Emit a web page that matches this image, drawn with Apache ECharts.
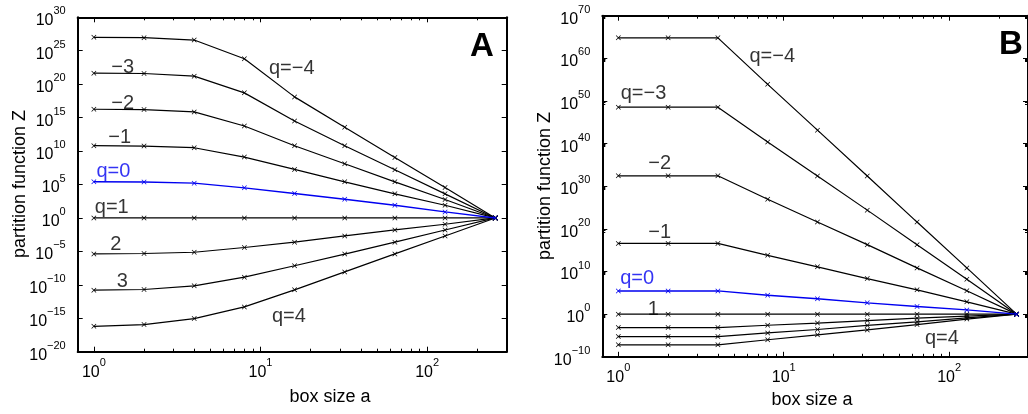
<!DOCTYPE html>
<html>
<head>
<meta charset="utf-8">
<script src="https://cdn.jsdelivr.net/npm/echarts@6/dist/echarts.min.js"></script>
<style>
  html, body { margin: 0; padding: 0; background: #ffffff; }
  #chart { width: 1028px; height: 414px; }
</style>
</head>
<body>
<div id="chart"></div>
<script>
// Box sizes a (same for both panels)
const boxSizes = [1, 2, 4, 8, 16, 32, 64, 128, 256];
const qOrder = [-4, -3, -2, -1, 0, 1, 2, 3, 4];

// Panel A: log10 of the partition function Z(a) for each q
const logZ_A_qm4 = [27.0, 26.95, 26.6, 23.8, 18.1, 13.55, 9.05, 4.55, 0];
const logZ_A_qm3 = [21.65, 21.6, 21.2, 18.7, 14.5, 10.8, 7.2, 3.6, 0];
const logZ_A_qm2 = [16.25, 16.2, 15.85, 13.75, 10.8, 8.1, 5.4, 2.75, 0];
const logZ_A_qm1 = [10.8, 10.75, 10.5, 9.1, 7.25, 5.4, 3.6, 1.9, 0];
const logZ_A_q0  = [5.4, 5.38, 5.2, 4.5, 3.65, 2.8, 1.9, 0.9, 0];
const logZ_A_q1  = [0, 0, 0, 0, 0, 0, 0, 0, 0];
const logZ_A_q2  = [-5.38, -5.32, -5.13, -4.42, -3.63, -2.69, -1.79, -0.94, 0];
const logZ_A_q3  = [-10.8, -10.7, -10.15, -8.85, -7.15, -5.4, -3.62, -1.8, 0];
const logZ_A_q4  = [-16.2, -15.95, -15.05, -13.3, -10.75, -8.07, -5.38, -2.7, 0];

// Panel B: log10 of the partition function Z(a) for each q
const logZ_B_qm4 = [64.8, 64.8, 64.8, 53.9, 43.15, 32.4, 21.6, 10.85, 0];
const logZ_B_qm3 = [48.55, 48.55, 48.55, 40.4, 32.4, 24.4, 16.3, 8.2, 0];
const logZ_B_qm2 = [32.45, 32.45, 32.45, 26.95, 21.6, 16.3, 10.85, 5.5, 0];
const logZ_B_qm1 = [16.6, 16.6, 16.6, 13.8, 11.1, 8.35, 5.7, 2.9, 0];
const logZ_B_q0  = [5.45, 5.45, 5.45, 4.45, 3.6, 2.65, 1.8, 1.0, 0];
const logZ_B_q1  = [0, 0, 0, 0, 0, 0, 0, 0, 0];
const logZ_B_q2  = [-3.15, -3.15, -3.15, -2.6, -2.1, -1.5, -0.95, -0.45, 0];
const logZ_B_q3  = [-5.25, -5.25, -5.25, -4.4, -3.6, -2.65, -1.8, -0.85, 0];
const logZ_B_q4  = [-7.2, -7.2, -7.2, -6.0, -4.85, -3.7, -2.45, -1.15, 0];

const panelA = [logZ_A_qm4, logZ_A_qm3, logZ_A_qm2, logZ_A_qm1, logZ_A_q0, logZ_A_q1, logZ_A_q2, logZ_A_q3, logZ_A_q4];
const panelB = [logZ_B_qm4, logZ_B_qm3, logZ_B_qm2, logZ_B_qm1, logZ_B_q0, logZ_B_q1, logZ_B_q2, logZ_B_q3, logZ_B_q4];

// Axis ranges and tick decades
const xRange = [0.8, 300];
const xDecades = [0, 1, 2];
const yRangeA = [1e-20, 1e30];
const yRangeB = [1e-10, 1e70];

// ---- styling ----
const FONT = '"Liberation Sans", Arial, Helvetica, sans-serif';
const BLACK = '#000000';
const BLUE = '#0000f0';
const CROSS = 'path://M0,1 L1,0 L5,4 L9,0 L10,1 L6,5 L10,9 L9,10 L5,6 L1,10 L0,9 L4,5 Z';

// Curve annotations: text placed at (box size, log10 Z)
const notesA = [
  { text: 'q=−4', at: [15.4, 22.4] },
  { text: '−3', at: [1.49, 22.5] },
  { text: '−2', at: [1.49, 17.1] },
  { text: '−1', at: [1.43, 12.0] },
  { text: 'q=0', at: [1.31, 7.0], blue: true },
  { text: 'q=1', at: [1.28, 1.6] },
  { text: '2', at: [1.355, -3.9] },
  { text: '3', at: [1.48, -9.5] },
  { text: 'q=4', at: [14.8, -14.8] }
];
const notesB = [
  { text: 'q=−4', at: [8.53, 60.4] },
  { text: 'q=−3', at: [1.42, 51.8] },
  { text: '−2', at: [1.78, 35.4] },
  { text: '−1', at: [1.78, 19.2] },
  { text: 'q=0', at: [1.30, 8.3], blue: true },
  { text: '1', at: [1.63, 1.0] },
  { text: 'q=4', at: [90.4, -5.6] }
];

function supText(e) {
  return '{b|10}{e|' + (e < 0 ? '−' + (-e) : String(e)) + '}';
}
// label for a log-axis tick value (only whole decades are labelled)
function powLabel(v) {
  const lg = Math.log10(v);
  const e = Math.round(lg);
  if (Math.abs(lg - e) > 1e-6) return '';
  return supText(e);
}
const powRich = {
  b: { fontSize: 16, fontFamily: FONT, color: BLACK, padding: [7, 0, 0, 0], verticalAlign: 'bottom' },
  e: { fontSize: 11, fontFamily: FONT, color: BLACK, verticalAlign: 'top' }
};

// minor ticks at 2..9 of each decade, on the linear log10 scale of the tick axes
const minorX = [];
[1, 10, 100].forEach(d => {
  for (let k = 2; k <= 9; k++) {
    const v = k * d;
    if (v > xRange[0] && v < xRange[1]) minorX.push(Math.log10(v));
  }
});

const frameLine = { color: BLACK, width: 2 };
const tickLine = { color: BLACK, width: 1 };

function xAxesFor(grid) {
  // the log axis that carries the data (and draws the frame line)
  const dataAxis = {
    gridIndex: grid, type: 'log', logBase: 10, min: xRange[0], max: xRange[1],
    splitLine: { show: false }, axisLine: { show: true, onZero: false, lineStyle: frameLine },
    axisTick: { show: false }, axisLabel: { show: false }
  };
  // decade ticks and labels, placed on the same extent in log10 units
  const tickAxis = {
    gridIndex: grid, type: 'value', min: Math.log10(xRange[0]), max: Math.log10(xRange[1]),
    splitLine: { show: false }, axisLine: { show: false, onZero: false }
  };
  return [
    Object.assign({}, dataAxis, { position: 'bottom' }),
    Object.assign({}, tickAxis, {
      position: 'bottom',
      axisTick: { show: true, inside: true, length: 5, customValues: xDecades, lineStyle: tickLine },
      axisLabel: { show: true, margin: 6, customValues: xDecades, formatter: v => supText(Math.round(v)), rich: powRich }
    }),
    Object.assign({}, tickAxis, {
      position: 'bottom', axisLabel: { show: false },
      axisTick: { show: true, inside: true, length: 3, customValues: minorX, lineStyle: tickLine }
    }),
    Object.assign({}, dataAxis, { position: 'top' }),
    Object.assign({}, tickAxis, {
      position: 'top', axisLabel: { show: false },
      axisTick: { show: true, inside: true, length: 5, customValues: xDecades, lineStyle: tickLine }
    }),
    Object.assign({}, tickAxis, {
      position: 'top', axisLabel: { show: false },
      axisTick: { show: true, inside: true, length: 3, customValues: minorX, lineStyle: tickLine }
    })
  ];
}

function yAxesFor(grid, range, interval, minorSplit) {
  const base = {
    gridIndex: grid, type: 'log', logBase: 10, min: range[0], max: range[1], interval: interval,
    splitLine: { show: false }, axisLine: { show: true, onZero: false, lineStyle: frameLine },
    axisTick: { show: true, inside: true, length: 5, lineStyle: tickLine },
    minorTick: minorSplit ? { show: true, splitNumber: minorSplit, length: 3, lineStyle: tickLine } : { show: false }
  };
  return [
    Object.assign({}, base, {
      position: 'left',
      axisLabel: { show: true, margin: 12, formatter: powLabel, rich: powRich }
    }),
    Object.assign({}, base, { position: 'right', axisLabel: { show: false } })
  ];
}

function curveSeries(rows, xIdx, yIdx) {
  return rows.map((row, i) => {
    const isBlue = qOrder[i] === 0;
    const color = isBlue ? BLUE : BLACK;
    return {
      type: 'line', name: 'q=' + qOrder[i], xAxisIndex: xIdx, yAxisIndex: yIdx,
      data: boxSizes.map((a, j) => [a, Math.pow(10, row[j])]),
      symbol: CROSS, symbolSize: 5, showSymbol: true,
      lineStyle: { color: color, width: isBlue ? 1.4 : 1.2 },
      itemStyle: { color: color },
      z: isBlue ? 4 : 3, silent: true
    };
  });
}

function noteSeries(notes, xIdx, yIdx) {
  return {
    type: 'scatter', xAxisIndex: xIdx, yAxisIndex: yIdx, symbolSize: 1, silent: true, z: 10,
    itemStyle: { color: 'rgba(0,0,0,0)' },
    data: notes.map(n => ({
      name: n.text, value: [n.at[0], Math.pow(10, n.at[1])],
      label: { color: n.blue ? BLUE : BLACK }
    })),
    label: { show: true, position: 'inside', formatter: '{b}', fontSize: 20, fontFamily: FONT, color: BLACK }
  };
}

const chart = echarts.init(document.getElementById('chart'), null, { renderer: 'canvas' });

const option = {
  animation: false,
  backgroundColor: '#ffffff',
  grid: [
    { left: 77.7, top: 17.3, width: 429, height: 334.4, containLabel: false },
    { left: 602.3, top: 15.7, width: 433.3, height: 341.1, containLabel: false }
  ],
  xAxis: [].concat(xAxesFor(0), xAxesFor(1)),
  yAxis: [].concat(yAxesFor(0, yRangeA, 5, 0), yAxesFor(1, yRangeB, 10, 5)),
  series: [].concat(
    curveSeries(panelA, 0, 0),
    curveSeries(panelB, 6, 2),
    [noteSeries(notesA, 0, 0), noteSeries(notesB, 6, 2)]
  ),
  graphic: [
    { type: 'text', left: 470, top: 30, style: { text: 'A', font: 'bold 33px ' + FONT, fill: BLACK } },
    { type: 'text', left: 999, top: 28, style: { text: 'B', font: 'bold 33px ' + FONT, fill: BLACK } },
    { type: 'text', x: 330, y: 397, style: { text: 'box size a', font: '18px ' + FONT, fill: BLACK, align: 'center', verticalAlign: 'middle' } },
    { type: 'text', x: 812, y: 400, style: { text: 'box size a', font: '18px ' + FONT, fill: BLACK, align: 'center', verticalAlign: 'middle' } },
    { type: 'text', x: 20, y: 184, rotation: Math.PI / 2, style: { text: 'partition function Z', font: '18px ' + FONT, fill: BLACK, align: 'center', verticalAlign: 'middle' } },
    { type: 'text', x: 545, y: 186, rotation: Math.PI / 2, style: { text: 'partition function Z', font: '18px ' + FONT, fill: BLACK, align: 'center', verticalAlign: 'middle' } }
  ]
};

chart.setOption(option);
</script>
</body>
</html>
